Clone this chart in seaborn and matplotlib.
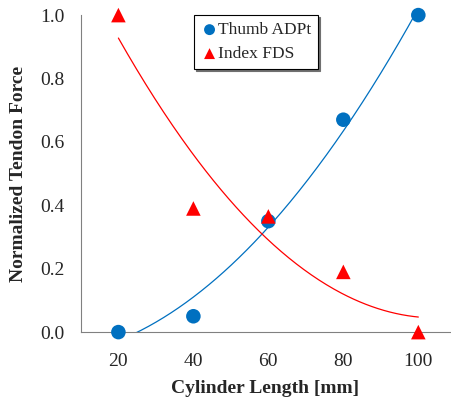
import numpy as np
import pandas as pd
import matplotlib
matplotlib.use("Agg")
import matplotlib.pyplot as plt
import seaborn as sns

# data
lengths = [20, 40, 60, 80, 100]
thumb_adpt = [0.0, 0.05, 0.35, 0.67, 1.0]
index_fds = [1.0, 0.39, 0.365, 0.19, 0.0]

sns.set_style("white")
plt.rcParams['font.family'] = ['Liberation Serif', 'DejaVu Serif']

blue = "#0070C0"
red = "#FF0000"

df = pd.DataFrame({"length": lengths, "Thumb ADPt": thumb_adpt, "Index FDS": index_fds})

# second order trend lines, like the spreadsheet fits
xs = np.linspace(20, 100, 200)
fit_thumb = np.polyval(np.polyfit(lengths, thumb_adpt, 2), xs)
fit_index = np.polyval(np.polyfit(lengths, index_fds, 2), xs)

fig = plt.figure(figsize=(4.52, 4.08), dpi=100)
ax = fig.add_axes([0.179, 0.186, 0.817, 0.777])

sns.lineplot(x=xs, y=fit_thumb, color=blue, lw=0.9, ax=ax)
sns.lineplot(x=xs, y=fit_index, color=red, lw=0.9, ax=ax)
sns.scatterplot(data=df, x="length", y="Thumb ADPt", color=blue, marker="o", s=110,
                edgecolor="none", label="Thumb ADPt", ax=ax, clip_on=False, zorder=3)
sns.scatterplot(data=df, x="length", y="Index FDS", color=red, marker="^", s=110,
                edgecolor="none", label="Index FDS", ax=ax, clip_on=False, zorder=4)

ax.set_xlim(10, 108.5)
ax.set_ylim(0, 1.0)
ax.set_xticks(lengths)
ax.set_yticks([0, 0.2, 0.4, 0.6, 0.8, 1.0])
ax.set_yticklabels(["0.0", "0.2", "0.4", "0.6", "0.8", "1.0"])
ax.tick_params(axis="both", direction="out", length=5, width=0.8, color="#808080",
               labelsize=14, pad=7)
ax.tick_params(axis="x", length=4, pad=11)

for side in ["top", "right"]:
    ax.spines[side].set_visible(False)
for side in ["left", "bottom"]:
    ax.spines[side].set_color("#808080")
    ax.spines[side].set_linewidth(0.8)

ax.set_xlabel("Cylinder Length [mm]", fontsize=14, fontweight="bold", labelpad=7)
ax.set_ylabel("Normalized Tendon Force", fontsize=14, fontweight="bold", labelpad=9)

leg = ax.legend(loc="upper left", bbox_to_anchor=(0.306, 1.0), fontsize=12.5, frameon=True,
                fancybox=False, shadow={"ox": 1.5, "oy": -1.5, "color": "#707070", "alpha": 1},
                handletextpad=0.0, borderpad=0.4, borderaxespad=0,
                labelspacing=0.45, handlelength=1.0, markerscale=0.75)
leg.get_frame().set_edgecolor("black")
leg.get_frame().set_linewidth(0.8)

fig.savefig("out.png", dpi=100)
